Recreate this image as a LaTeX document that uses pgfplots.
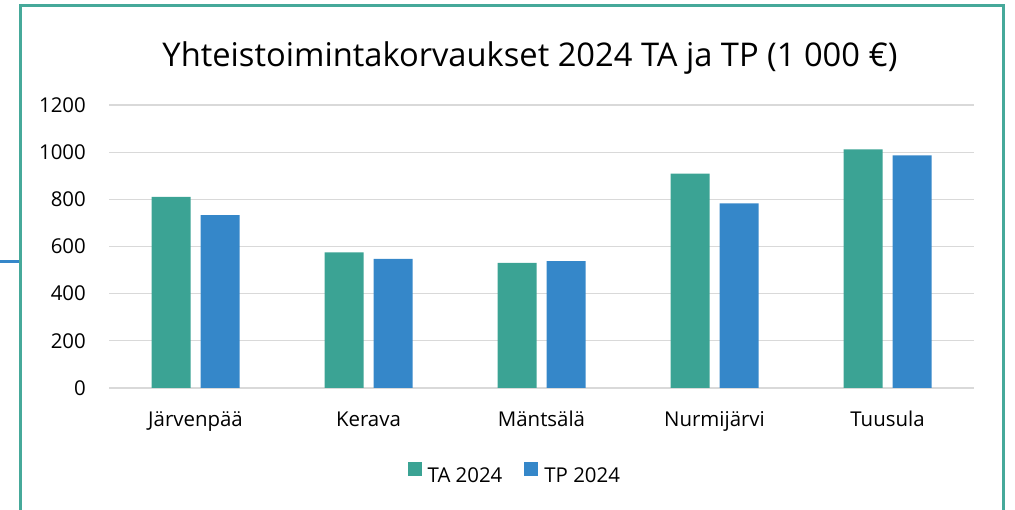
\documentclass[border=0pt]{standalone}
\usepackage{fontspec}
\setmainfont{Open Sans}
\usepackage{pgfplots}
\pgfplotsset{compat=1.18}
\definecolor{ta}{HTML}{3BA394}
\definecolor{tp}{HTML}{3587C9}
\definecolor{frameteal}{HTML}{46A99A}
\definecolor{gridgray}{HTML}{D9D9D9}
\begin{document}
\begin{tikzpicture}[x=1bp,y=1bp]
\path[use as bounding box] (0,0) rectangle (1015,510);
\begin{scope}
\clip (0,0) rectangle (1015,510);
\draw[frameteal, line width=3bp] (20.5,504.5) rectangle (1003.5,-20);
\draw[tp, line width=3bp] (0,248) -- (19,248);
\end{scope}
\node[anchor=base, inner sep=0pt, font=\fontsize{32.8}{38}\selectfont] at (530,443) {Yhteistoimintakorvaukset 2024 TA ja TP (1 000 €)};
\begin{axis}[
  at={(109bp,122bp)}, anchor=south west,
  scale only axis, width=865bp, height=283bp,
  xmin=-0.5, xmax=4.5, ymin=0, ymax=1200,
  ytick={0,200,...,1200},
  xtick={0,1,2,3,4},
  xticklabels={Järvenpää,Kerava,Mäntsälä,Nurmijärvi,Tuusula},
  ymajorgrids, grid style={gridgray, line width=1.3bp},
  axis x line*=bottom, axis y line*=left,
  x axis line style={gridgray, line width=1.3bp, -},
  y axis line style={draw=none},
  major tick length=0pt,
  tick label style={font=\fontsize{20.5}{24}\selectfont, text=black},
  /pgf/number format/assume math mode=true,
  /pgf/number format/1000 sep={},
  yticklabel style={inner sep=0pt, anchor=east, xshift=-23bp},
  xticklabel style={inner sep=0pt, anchor=base, yshift=-39bp},
  ybar=10bp, bar width=39bp,
  legend columns=2,
  legend style={at={(axis description cs:0.468,-0.300)}, anchor=center, draw=none, fill=none,
    font=\fontsize{20.5}{24}\selectfont, inner sep=0pt,
    nodes={inner sep=0pt},
    /tikz/every odd column/.append style={column sep=6bp},
    /tikz/every even column/.append style={column sep=22bp}},
  legend image code/.code={\fill[#1] (0bp,0bp) rectangle (14bp,14bp);},
]
\addplot[fill=ta, draw=none] coordinates {(0,810) (1,575) (2,531) (3,909) (4,1012)};
\addplot[fill=tp, draw=none] coordinates {(0,733) (1,548) (2,538) (3,783) (4,986)};
\legend{TA 2024,TP 2024}
\end{axis}
\end{tikzpicture}
\end{document}
